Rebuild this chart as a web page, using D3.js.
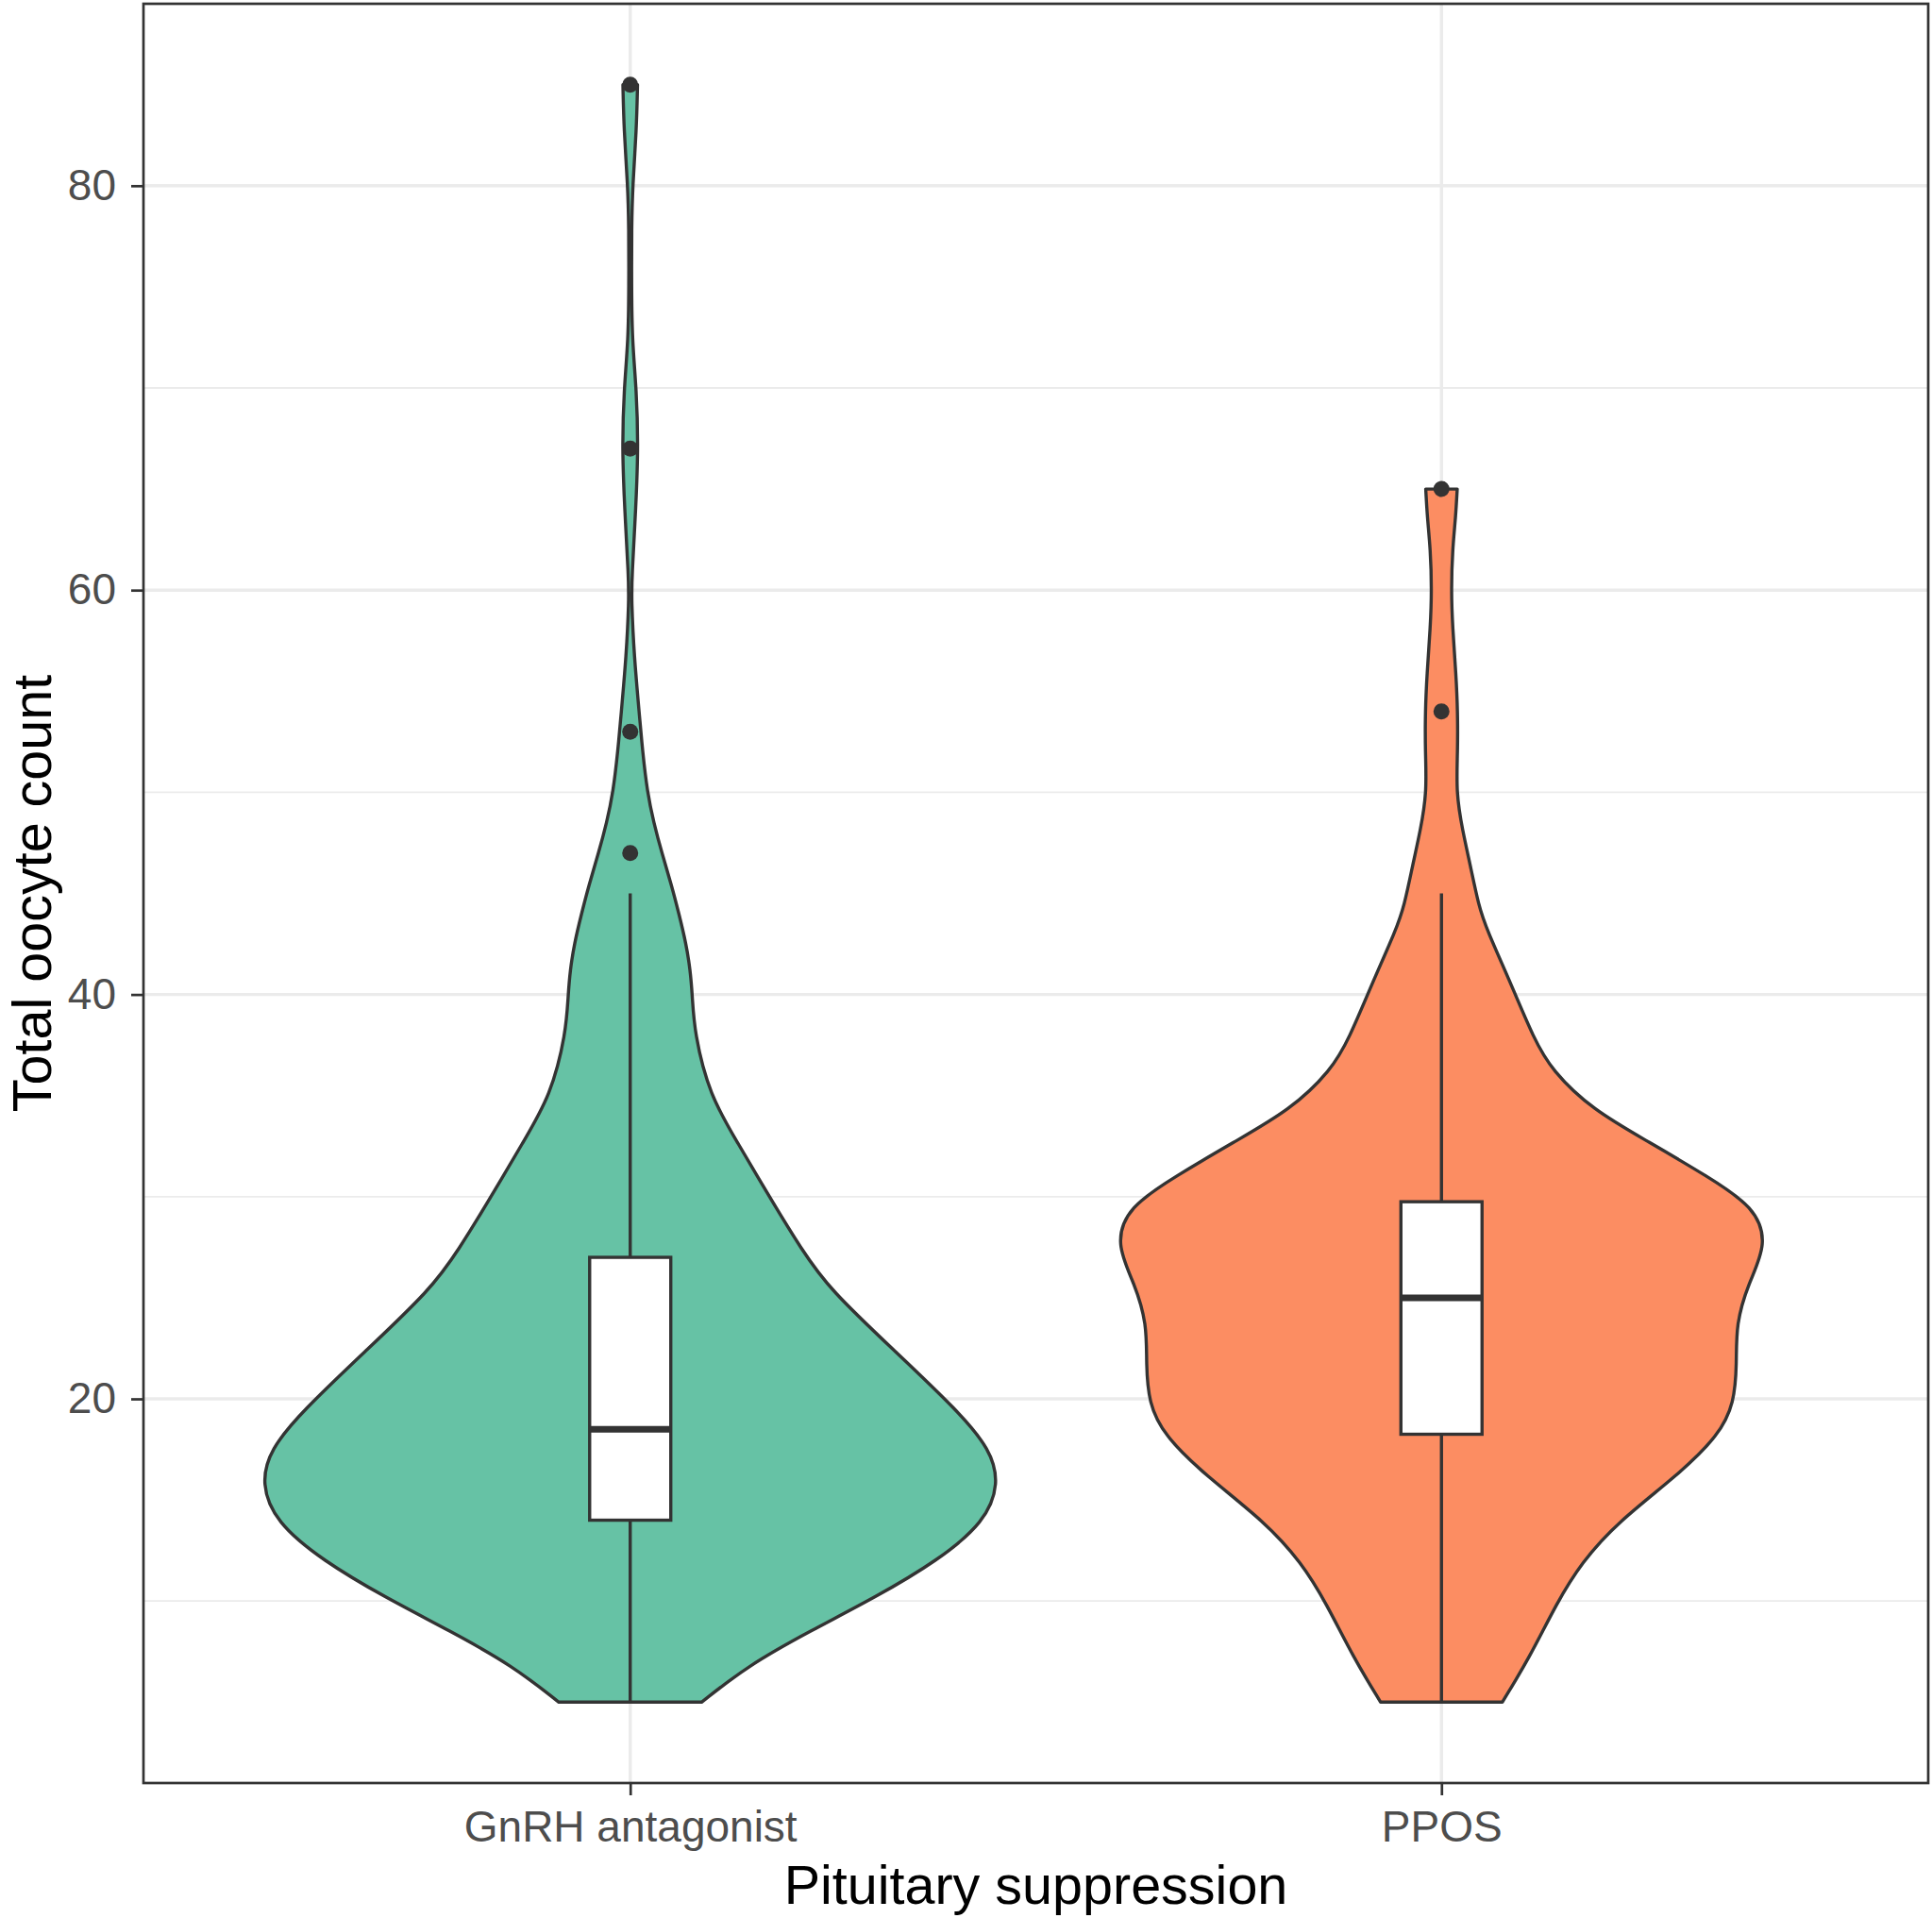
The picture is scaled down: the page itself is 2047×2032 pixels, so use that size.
<!DOCTYPE html>
<html>
<head>
<meta charset="utf-8">
<script src="https://cdn.jsdelivr.net/npm/d3@7"></script>
<style>
  body { margin: 0; background: #fff; }
  text { font-family: "Liberation Sans", Arial, Helvetica, sans-serif; }
</style>
</head>
<body>
<script>
const width = 2047;
const height = 2032;

// categories and their fills
const groups = ["GnRH antagonist", "PPOS"];
const fills = ["#66c2a5", "#fc8d62"];

// violin outline: [oocyte count, half width in category units]
const gnrhDensity = [
    [5.0, 0.088], [6.8, 0.145], [8.5, 0.221], [10.2, 0.303], [12.0, 0.379],
    [13.9, 0.437], [15.8, 0.455], [17.5, 0.444], [19.4, 0.404], [22.3, 0.328],
    [25.4, 0.246], [27.4, 0.211], [29.9, 0.173], [32.7, 0.132], [35.0, 0.098],
    [38.1, 0.079], [40.0, 0.0765], [41.2, 0.074], [42.5, 0.069], [44.0, 0.060],
    [45.4, 0.051], [47.0, 0.039], [48.5, 0.029], [50.0, 0.021], [52.1, 0.0151],
    [53.7, 0.0116], [56.8, 0.0047], [59.5, 0.0016], [60.6, 0.002], [64.1, 0.007],
    [67.0, 0.0099], [69.9, 0.0078], [72.4, 0.0023], [75.0, 0.0017], [78.0, 0.0017],
    [80.0, 0.003], [82.8, 0.0078], [85.0, 0.009]
];
const pposDensity = [
    [5.0, 0.075], [7.2, 0.1085], [9.9, 0.142], [11.9, 0.1725], [13.9, 0.217],
    [16.25, 0.292], [18.2, 0.342], [19.8, 0.361], [21.75, 0.364], [23.7, 0.363],
    [25.7, 0.378], [27.66, 0.402], [29.5, 0.386], [31.0, 0.328], [32.7, 0.256],
    [34.3, 0.186], [36.25, 0.136], [37.8, 0.114], [40.5, 0.086], [43.2, 0.056],
    [44.35, 0.046], [46.5, 0.035], [48.1, 0.026], [50.0, 0.018], [52.0, 0.020],
    [54.0, 0.020], [55.8, 0.018], [58.2, 0.0136], [60.0, 0.012], [62.05, 0.0136],
    [63.6, 0.0175], [65.0, 0.0194]
];

// box stats: lower whisker, Q1, median, Q3, upper whisker
const gnrhBox = [5, 14, 18.5, 27, 45];
const pposBox = [5, 18.25, 25, 29.75, 45];
const gnrhOutliers = [47, 53, 67, 85];
const pposOutliers = [54, 65];

const yTicks = [20, 40, 60, 80];
const yMinor = [10, 30, 50, 70];

const densities = [gnrhDensity, pposDensity];
const boxes = [gnrhBox, pposBox];
const outliers = [gnrhOutliers, pposOutliers];

const margin = {left: 152, right: 4, top: 4, bottom: 143};

const x = d3.scalePoint()
    .domain(groups)
    .range([margin.left, width - margin.right])
    .padding(0.6);

const y = d3.scaleLinear()
    .domain([1, 89])
    .range([height - margin.bottom, margin.top]);

// category units -> pixels, for violin and box widths
const w = d3.scaleLinear().domain([0, 1]).range([0, x.step()]);

const svg = d3.select("body").append("svg")
    .attr("width", width)
    .attr("height", height);

svg.append("rect")
    .attr("width", width).attr("height", height)
    .attr("fill", "#fff");

// grid
const grid = svg.append("g").attr("stroke", "#ebebeb");

grid.selectAll(".minor")
    .data(yMinor)
    .join("line")
    .attr("x1", margin.left).attr("x2", width - margin.right)
    .attr("y1", d => y(d)).attr("y2", d => y(d))
    .attr("stroke-width", 1.8);

grid.selectAll(".major")
    .data(yTicks)
    .join("line")
    .attr("x1", margin.left).attr("x2", width - margin.right)
    .attr("y1", d => y(d)).attr("y2", d => y(d))
    .attr("stroke-width", 3.4);

grid.selectAll(".xmajor")
    .data(groups)
    .join("line")
    .attr("x1", d => x(d)).attr("x2", d => x(d))
    .attr("y1", margin.top).attr("y2", height - margin.bottom)
    .attr("stroke-width", 3.4);

// violins
const violin = svg.append("g");

groups.forEach((g, i) => {
    const cx = x(g);
    const area = d3.area()
        .curve(d3.curveBasis)
        .y(d => y(d[0]))
        .x0(d => cx - w(d[1]))
        .x1(d => cx + w(d[1]));

    violin.append("path")
        .datum(densities[i])
        .attr("d", area)
        .attr("fill", fills[i])
        .attr("stroke", "#333333")
        .attr("stroke-width", 3.4)
        .attr("stroke-linejoin", "round");
});

// boxplots
const boxWidth = 0.1;
const box = svg.append("g").attr("stroke", "#333333");

groups.forEach((g, i) => {
    const cx = x(g);
    const b = boxes[i];

    box.append("line")
        .attr("x1", cx).attr("x2", cx)
        .attr("y1", y(b[3])).attr("y2", y(b[4]))
        .attr("stroke-width", 3.4);
    box.append("line")
        .attr("x1", cx).attr("x2", cx)
        .attr("y1", y(b[1])).attr("y2", y(b[0]))
        .attr("stroke-width", 3.4);

    box.append("rect")
        .attr("x", cx - w(boxWidth / 2))
        .attr("width", w(boxWidth))
        .attr("y", y(b[3]))
        .attr("height", y(b[1]) - y(b[3]))
        .attr("fill", "#fff")
        .attr("stroke-width", 3.4);

    box.append("line")
        .attr("x1", cx - w(boxWidth / 2)).attr("x2", cx + w(boxWidth / 2))
        .attr("y1", y(b[2])).attr("y2", y(b[2]))
        .attr("stroke-width", 7);

    svg.append("g")
        .selectAll("circle")
        .data(outliers[i])
        .join("circle")
        .attr("cx", cx)
        .attr("cy", d => y(d))
        .attr("r", 8.5)
        .attr("fill", "#333333");
});

// panel border
svg.append("rect")
    .attr("x", margin.left).attr("y", margin.top)
    .attr("width", width - margin.left - margin.right)
    .attr("height", height - margin.top - margin.bottom)
    .attr("fill", "none")
    .attr("stroke", "#333333")
    .attr("stroke-width", 2.7);

// axes
const yAxis = svg.append("g")
    .attr("transform", `translate(${margin.left},0)`)
    .call(d3.axisLeft(y).tickValues(yTicks).tickSize(13).tickPadding(16));

const xAxis = svg.append("g")
    .attr("transform", `translate(0,${height - margin.bottom})`)
    .call(d3.axisBottom(x).tickSize(13).tickPadding(16));

[yAxis, xAxis].forEach(a => {
    a.select(".domain").remove();
    a.selectAll(".tick line").attr("stroke", "#333333").attr("stroke-width", 2.7);
    a.selectAll(".tick text")
        .attr("fill", "#4d4d4d")
        .style("font-size", "46px")
        .style("font-family", "'Liberation Sans', Arial, Helvetica, sans-serif");
});

svg.append("text")
    .attr("x", (margin.left + width - margin.right) / 2)
    .attr("y", 2017)
    .attr("text-anchor", "middle")
    .style("font-size", "57.5px")
    .attr("fill", "#000")
    .text("Pituitary suppression");

svg.append("text")
    .attr("transform", `translate(54,${(margin.top + height - margin.bottom) / 2}) rotate(-90)`)
    .attr("text-anchor", "middle")
    .style("font-size", "57.5px")
    .attr("fill", "#000")
    .text("Total oocyte count");
</script>
</body>
</html>
